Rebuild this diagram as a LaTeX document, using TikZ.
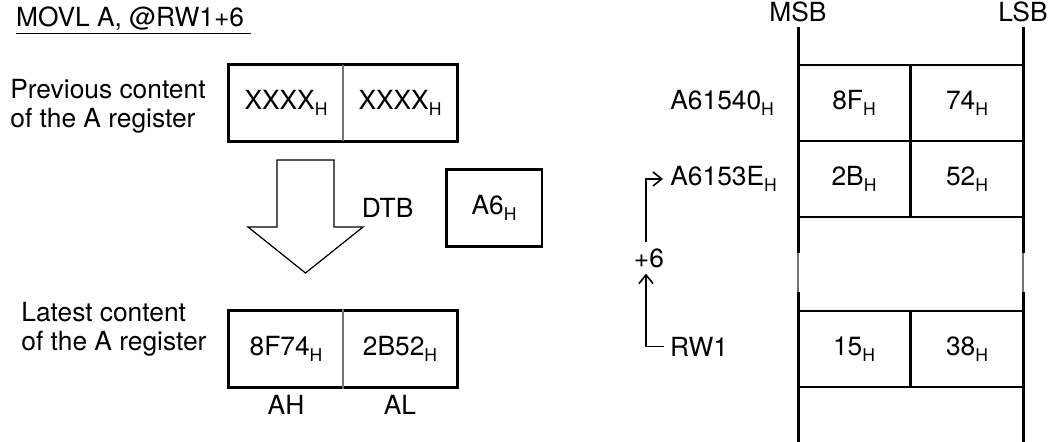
\documentclass[tikz,border=0pt]{standalone}
\usepackage{fontspec}
\setmainfont{TeX Gyre Heros}
\usetikzlibrary{positioning,arrows.meta}
\newcommand{\hsub}[1]{#1\raisebox{-3.4pt}{\fontsize{10}{10}\selectfont H}}

\begin{document}
\begin{tikzpicture}[x=0.02cm, y=-0.02cm,
    lbl/.style={font=\fontsize{15}{16.5}\selectfont},
    half/.style={lbl, minimum width=2.28cm, minimum height=1.52cm, inner sep=0pt},
    cell/.style={lbl, draw, line width=1.1pt, minimum width=2.25cm, minimum height=1.52cm, inner sep=0pt},
    regframe/.style={line width=1.7pt},
    rail/.style={line width=1.7pt},
    brk/.style={line width=1.3pt, black!55},
    link/.style={line width=0.9pt, -{Straight Barb[length=5pt,width=8pt]}}]
    \useasboundingbox (0,0) rectangle (1051,442);

    \node[lbl, anchor=base west] (title) at (10,27) {\underline{MOVL A, @RW1+6\ }};

    % Previous content
    \node[lbl, align=left, anchor=north west, inner sep=0pt] (prevtxt) at (10,79) {Previous content\\of the A register};
    \node[half] (ph) at (286,103) {\hsub{XXXX}};
    \node[half] (pl) at (400,103) {\hsub{XXXX}};
    \draw[regframe] (ph.north west) rectangle (pl.south east);
    \draw[brk] (ph.north east) -- (ph.south east);

    % Transfer arrow
    \draw[line width=0.7pt] (277,160) -- (334,160) -- (334,227) -- (363,227) -- (305.5,273)
        -- (248,227) -- (277,227) -- cycle;
    \node[lbl, draw, line width=1.7pt, minimum width=1.92cm, minimum height=1.54cm] (a6) at (494,208) {\hsub{A6}};
    \node[lbl, anchor=base east] (dtb) at ([xshift=-0.5cm,yshift=-0.06cm]a6.base west) {DTB};

    % Latest content
    \node[lbl, align=left, anchor=north west, inner sep=0pt] (lattxt) at (21,302) {Latest content\\of the A register};
    \node[half] (lh) at (286,349) {\hsub{8F74}};
    \node[half] (ll) at (400,349) {\hsub{2B52}};
    \draw[regframe] (lh.north west) rectangle (ll.south east);
    \draw[brk] ([yshift=0.04cm]lh.north east) -- ([yshift=-0.04cm]lh.south east);
    \node[lbl, below=1pt of lh] (ah) {AH};
    \node[lbl, below=1pt of ll] (al) {AL};

    % Memory
    \node[lbl, anchor=base] (msb) at (798,22) {MSB};
    \node[lbl, anchor=base] (lsb) at (1023,22) {LSB};
    \foreach \x in {798,1023} {
        \draw[rail] (\x,27) -- (\x,253);
        \draw[brk] (\x,253) -- (\x,292);
        \draw[rail] (\x,292) -- (\x,442);
    }
    \node[cell] (c8f) at (854,103) {\hsub{8F}};
    \node[cell] (c74) at (967,103) {\hsub{74}};
    \node[cell] (c2b) at (854,179) {\hsub{2B}};
    \node[cell] (c52) at (967,179) {\hsub{52}};
    \node[cell] (c15) at (854,349) {\hsub{15}};
    \node[cell] (c38) at (967,349) {\hsub{38}};

    % Addresses
    \node[lbl, anchor=west, inner sep=4pt] (a61540) at (663,103) {\hsub{A61540}};
    \node[lbl, anchor=west, inner sep=4pt] (a6153e) at (663,179) {\hsub{A6153E}};
    \node[lbl, anchor=base west] (rw1) at (664,356) {RW1};
    \node[lbl, anchor=base] (plus6) at (649,267) {+6};
    \draw[link] (rw1.west) -| ([xshift=-0.06cm]plus6.south);
    \draw[link] ([xshift=-0.06cm]plus6.north) |- (a6153e.west);
\end{tikzpicture}
\end{document}
